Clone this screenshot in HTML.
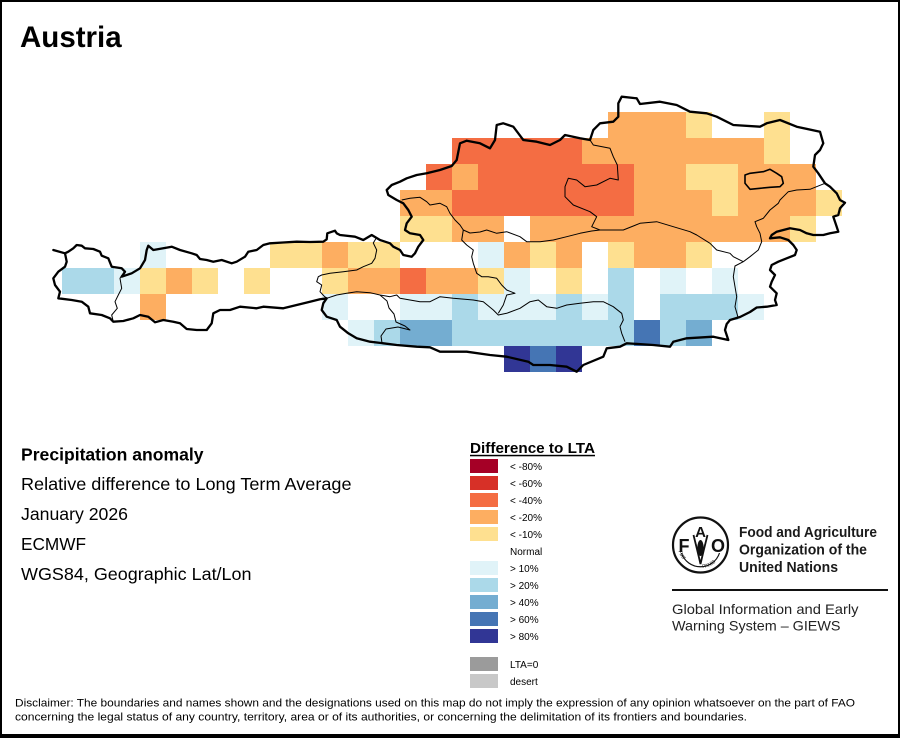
<!DOCTYPE html>
<html>
<head>
<meta charset="utf-8">
<style>
html,body{margin:0;padding:0;background:#fff;}
svg{display:block;}
text{font-family:"Liberation Sans",Arial,sans-serif;}
</style>
</head>
<body>
<svg width="900" height="738" viewBox="0 0 900 738" xmlns="http://www.w3.org/2000/svg">
<rect x="0" y="0" width="900" height="738" fill="#fff"/>

<!-- Title -->
<text x="20" y="47" font-size="29.5" font-weight="bold" fill="#000">Austria</text>

<!-- Grid cells -->
<g shape-rendering="crispEdges">
<!-- row 0 -->
<rect x="608" y="112" width="78" height="26" fill="#fdae61"/>
<rect x="686" y="112" width="26" height="26" fill="#fee090"/>
<rect x="764" y="112" width="26" height="26" fill="#fee090"/>
<!-- row 1 -->
<rect x="452" y="138" width="130" height="26" fill="#f46d43"/>
<rect x="582" y="138" width="182" height="26" fill="#fdae61"/>
<rect x="764" y="138" width="26" height="26" fill="#fee090"/>
<!-- row 2 -->
<rect x="426" y="164" width="26" height="26" fill="#f46d43"/>
<rect x="452" y="164" width="26" height="26" fill="#fdae61"/>
<rect x="478" y="164" width="156" height="26" fill="#f46d43"/>
<rect x="634" y="164" width="52" height="26" fill="#fdae61"/>
<rect x="686" y="164" width="52" height="26" fill="#fee090"/>
<rect x="738" y="164" width="78" height="26" fill="#fdae61"/>
<!-- row 3 -->
<rect x="400" y="190" width="52" height="26" fill="#fdae61"/>
<rect x="452" y="190" width="182" height="26" fill="#f46d43"/>
<rect x="634" y="190" width="78" height="26" fill="#fdae61"/>
<rect x="712" y="190" width="26" height="26" fill="#fee090"/>
<rect x="738" y="190" width="78" height="26" fill="#fdae61"/>
<rect x="816" y="190" width="26" height="26" fill="#fee090"/>
<!-- row 4 -->
<rect x="400" y="216" width="52" height="26" fill="#fee090"/>
<rect x="452" y="216" width="52" height="26" fill="#fdae61"/>
<rect x="530" y="216" width="260" height="26" fill="#fdae61"/>
<rect x="790" y="216" width="26" height="26" fill="#fee090"/>
<!-- row 5 -->
<rect x="140" y="242" width="26" height="26" fill="#e0f3f8"/>
<rect x="270" y="242" width="52" height="26" fill="#fee090"/>
<rect x="322" y="242" width="26" height="26" fill="#fdae61"/>
<rect x="348" y="242" width="52" height="26" fill="#fee090"/>
<rect x="478" y="242" width="26" height="26" fill="#e0f3f8"/>
<rect x="504" y="242" width="26" height="26" fill="#fdae61"/>
<rect x="530" y="242" width="26" height="26" fill="#fee090"/>
<rect x="556" y="242" width="26" height="26" fill="#fdae61"/>
<rect x="608" y="242" width="26" height="26" fill="#fee090"/>
<rect x="634" y="242" width="52" height="26" fill="#fdae61"/>
<rect x="686" y="242" width="26" height="26" fill="#fee090"/>
<!-- row 6 -->
<rect x="62" y="268" width="52" height="26" fill="#abd9e9"/>
<rect x="114" y="268" width="26" height="26" fill="#e0f3f8"/>
<rect x="140" y="268" width="26" height="26" fill="#fee090"/>
<rect x="166" y="268" width="26" height="26" fill="#fdae61"/>
<rect x="192" y="268" width="26" height="26" fill="#fee090"/>
<rect x="244" y="268" width="26" height="26" fill="#fee090"/>
<rect x="322" y="268" width="26" height="26" fill="#fee090"/>
<rect x="348" y="268" width="52" height="26" fill="#fdae61"/>
<rect x="400" y="268" width="26" height="26" fill="#f46d43"/>
<rect x="426" y="268" width="52" height="26" fill="#fdae61"/>
<rect x="478" y="268" width="26" height="26" fill="#fee090"/>
<rect x="504" y="268" width="26" height="26" fill="#e0f3f8"/>
<rect x="556" y="268" width="26" height="26" fill="#fee090"/>
<rect x="608" y="268" width="26" height="26" fill="#abd9e9"/>
<rect x="660" y="268" width="26" height="26" fill="#e0f3f8"/>
<rect x="712" y="268" width="26" height="26" fill="#e0f3f8"/>
<!-- row 7 -->
<rect x="140" y="294" width="26" height="26" fill="#fdae61"/>
<rect x="322" y="294" width="26" height="26" fill="#e0f3f8"/>
<rect x="400" y="294" width="52" height="26" fill="#e0f3f8"/>
<rect x="452" y="294" width="26" height="26" fill="#abd9e9"/>
<rect x="478" y="294" width="78" height="26" fill="#e0f3f8"/>
<rect x="556" y="294" width="26" height="26" fill="#abd9e9"/>
<rect x="582" y="294" width="26" height="26" fill="#e0f3f8"/>
<rect x="608" y="294" width="26" height="26" fill="#abd9e9"/>
<rect x="660" y="294" width="78" height="26" fill="#abd9e9"/>
<rect x="738" y="294" width="26" height="26" fill="#e0f3f8"/>
<!-- row 8 -->
<rect x="348" y="320" width="26" height="26" fill="#e0f3f8"/>
<rect x="374" y="320" width="26" height="26" fill="#abd9e9"/>
<rect x="400" y="320" width="52" height="26" fill="#74add1"/>
<rect x="452" y="320" width="182" height="26" fill="#abd9e9"/>
<rect x="634" y="320" width="26" height="26" fill="#4575b4"/>
<rect x="660" y="320" width="26" height="26" fill="#abd9e9"/>
<rect x="686" y="320" width="26" height="26" fill="#74add1"/>
<!-- row 9 -->
<rect x="504" y="346" width="26" height="26" fill="#313695"/>
<rect x="530" y="346" width="26" height="26" fill="#4575b4"/>
<rect x="556" y="346" width="26" height="26" fill="#313695"/>
</g>

<!-- Internal borders -->
<g fill="none" stroke="#000" stroke-width="1" stroke-linejoin="round">
<path d="M122,275 L120,278.3 121.7,288.3 118.3,295 115,301.7 117.3,308.3 111.7,315 113.3,321.7"/>
<path d="M376.7,237.3 L373.3,243 376.7,250 375,258.3 371.7,263.3 363.3,266.7 356.7,270 343.3,271.7 330,273.3 321.7,275 318.3,276.7 316.7,281.7 321.7,285 320,291.7 324,296 326.7,298.3"/>
<path d="M326.7,298.3 L336.7,295 346.7,293.3 356.7,291.7 370,292.7 380,295 390,296.7 396.7,295 400,298.3 410,300 420,301.7 430,301.7 440,296.7 453.3,298.3 473.3,300 483.3,301.7 493.3,310 498.3,315 506.7,313.3 520,308.3 530,301.7 538.3,300 546.7,306.7 556.7,308.3 566.7,305 580,303.3 593.3,301.7 603.3,301.7 613.3,306.7 621.7,313.3 623.3,320 620,326.7 621.7,333.3 625,341.7"/>
<path d="M380,295 L387,301 389,308 394,314 396,322 405,326 410,330 398,327 386,329 381,336 382,343"/>
<path d="M463.3,230 L461.7,240 466.7,245 473.3,250 471.7,256.7 473.3,263.3 476.7,273.3 481.7,276.7 488.3,276.7 496.7,278.3 501.7,285 506.7,290 515,293.3 506.7,295 505,300 503.3,305 498.3,313.3"/>
<path d="M401.7,200 L410,198.3 420,197.3 426.7,201.7 430,205 440,203.3 446.7,206.7 450,213.3 455,220 460,225 463.3,230"/>
<path d="M463.3,230 L470,233 480,232 486.7,230 496.7,233.3 506.7,231.7 520,236.7 526.7,241.7 540,241.7 553.3,240 566.7,236.7 580,233.3 591.7,231 600,230 623.3,230 640,223.3 656.7,221.7 673.3,226.7 690,231.7 696.7,235 710,243.3 716.7,250 730,253.3 733.3,256.7 743.3,261.7"/>
<path d="M590,140 L593.3,145 610,148.3 613.3,156.7 617.3,165 618.3,180 610,178.3 596.7,185 585,186.7 576.7,180 568.3,178.3 565,186.7 565,196.7 573.3,205 590,211.7 596.7,216.7 591.7,226.7 600,230"/>
<path d="M825,183.3 L810,189.3 796.7,190 788.3,191.7 783.3,196.7 780,200 778.3,203.3 770,210 763.3,218.3 755,221.7 756.7,226.7 760,233.3 761.7,241.7 758.3,250 750,256.7 743.3,261.7"/>
<path d="M743.3,261.7 L735,266 733.3,276.7 736.7,296.7 735,306.7 738.3,318.3"/>
<path stroke-width="1.6" d="M745,175 L750,173.3 763.3,171.7 770,169.3 776.7,173.3 781.7,176.7 783.3,183.3 780,186.7 770,187.3 760,188.3 750,189.3 745,183.3 Z"/>
</g>

<!-- Country outline -->
<g fill="none" stroke="#000" stroke-width="2.3" stroke-linejoin="round" stroke-linecap="round">
<path d="M65,253.3 L68.3,251.7 73.3,248.3 76.7,245 81.7,245.7 85,248.3 93.3,249 100,251.7 101.7,255.7 108.3,258.3 111.7,266.7 121.7,268.3 125,271.7 121.7,276.7 131.7,273.3 140,268.3 145,260 146.7,250 148.3,245.7 153.3,250 163.3,248.3 171.7,246.7 180,250 191.7,253.3 196.7,255 200,259 206.7,260 213.3,261.7 221.7,260 231.7,263.3 236.7,261.7 245,256.7 248.3,251.7 256.7,250 263.3,245 270,243.3 283,242.5 296.7,241.7 310,242 323.3,241.7 326.7,239.3 327.3,233.3 335,230.7 336.7,233.3 340,235 355,236.7 363.3,240 371.7,235 380,240 390,243.3 393.3,246.7 400,250 403.3,255 411.7,256.7 415,253.3 418.3,246.7 423.3,240 420,235 410,233.3 405,230 406.7,223.3 411.7,216.7 408.3,210 403.3,203.3 396.7,200 388.3,195 386.7,190 391.7,185 400,181.7 406.7,178.3 416.7,175 426.7,173.3 440,170 451.7,166 456.7,160 460,143.3 466.7,140.7 480,143.3 490,148.3 495,140 496.7,125 503.3,123.3 513.3,126.7 518.3,133.3 523.3,140 536.7,141.7 550,145 560,140 565,135 580,138.3 590,140 593.3,130 600,123.3 613.3,121.7 618.3,116.7 618.3,103.3 621.7,96.7 636.7,98.3 640,104 660,101.7 676.7,105 690,111.7 706.7,113.3 716.7,116.7 733.3,125 760,126.7 766.7,123.3 780,120 796.7,126.7 820,131.7 823.3,143.3 820,150 815,155 813.3,166.7 818.3,173.3 825,183.3 830,186.7 836.7,193.3 840,200 845,202.7 840,208.3 838.3,215 833.3,216.7 836.7,226.7 838.3,231.7 830,233.3 823.3,235 813.3,235 806.7,233.3 800,230 790,228.3 783.3,230 776.7,231.7 771.7,235 770,238.3 780,237.3 788.3,240 793.3,245 796.7,250 795,255 786.7,258.3 778.3,261.7 771.7,265 770,270 775,275 771.7,281.7 770,286.7 776.7,293.3 775,300 776.7,305 766.7,306.7 756.7,307.5 750,312 740,317 730,320 726.7,324 725,330 728.3,340 713.3,336.7 686.7,338.3 673.3,341.7 670,346.7 653.3,345 626.7,343.3 620,346.7 606.7,348.3 603.3,356.7 583.3,365 576.7,371.7 566.7,366.7 550,365 533.3,365 528.3,361.7 506.7,356.7 490,355 466.7,351.7 440,351.7 430,347.3 416.7,346.7 396.7,345 383.3,343.3 370,341.7 356.7,338.3 348.3,333.3 340,326.7 336.7,320 326.7,316.7 321.7,310 323.3,303.3 326.7,298.3 320,299.3 310,301.7 296.7,305 283.3,308.3 263.3,306.7 256.7,308.3 240,306.7 230,310 220,310 213.3,313.3 211.7,323.3 206.7,330 196.7,330 186.7,329 180,323.3 173.3,321.7 163.3,320 155,322.3 148.3,316.7 140,315 133.3,318.3 123.3,321 113.3,321.7 110,318.3 101.7,315 90,313.3 88.3,306.7 81.7,301.7 71.7,300 58.3,298.3 60,291.7 55,285 53.3,278.3 58.3,271.7 65,266.7 66.7,261.7 Z"/>
<path d="M65,253.3 L53.3,250"/>
</g>

<!-- Left text block -->
<text x="21" y="460.5" font-size="17.5" font-weight="bold" fill="#000" textLength="182.5" lengthAdjust="spacingAndGlyphs">Precipitation anomaly</text>
<text x="21" y="490" font-size="17.8" fill="#000" textLength="330.5" lengthAdjust="spacingAndGlyphs">Relative difference to Long Term Average</text>
<text x="21" y="520" font-size="17.8" fill="#000" textLength="107" lengthAdjust="spacingAndGlyphs">January 2026</text>
<text x="21" y="550" font-size="17.8" fill="#000" textLength="65" lengthAdjust="spacingAndGlyphs">ECMWF</text>
<text x="21" y="580" font-size="17.8" fill="#000" textLength="230.5" lengthAdjust="spacingAndGlyphs">WGS84, Geographic Lat/Lon</text>

<!-- Legend -->
<text x="470" y="453" font-size="15" font-weight="bold" fill="#000" textLength="125" lengthAdjust="spacingAndGlyphs">Difference to LTA</text>
<rect x="470" y="454.8" width="125" height="1.5" fill="#000"/>
<g shape-rendering="crispEdges">
<rect x="470" y="459" width="28" height="14" fill="#a50026"/>
<rect x="470" y="476" width="28" height="14" fill="#d73027"/>
<rect x="470" y="493" width="28" height="14" fill="#f46d43"/>
<rect x="470" y="510" width="28" height="14" fill="#fdae61"/>
<rect x="470" y="527" width="28" height="14" fill="#fee090"/>
<rect x="470" y="561" width="28" height="14" fill="#e0f3f8"/>
<rect x="470" y="578" width="28" height="14" fill="#abd9e9"/>
<rect x="470" y="595" width="28" height="14" fill="#74add1"/>
<rect x="470" y="612" width="28" height="14" fill="#4575b4"/>
<rect x="470" y="629" width="28" height="14" fill="#313695"/>
<rect x="470" y="657" width="28" height="14" fill="#9b9b9b"/>
<rect x="470" y="674" width="28" height="14" fill="#c8c8c8"/>
</g>
<g font-size="10" fill="#000">
<text x="510" y="470">&lt; -80%</text>
<text x="510" y="487">&lt; -60%</text>
<text x="510" y="504">&lt; -40%</text>
<text x="510" y="521">&lt; -20%</text>
<text x="510" y="538">&lt; -10%</text>
<text x="510" y="555">Normal</text>
<text x="510" y="572">&gt; 10%</text>
<text x="510" y="589">&gt; 20%</text>
<text x="510" y="606">&gt; 40%</text>
<text x="510" y="623">&gt; 60%</text>
<text x="510" y="640">&gt; 80%</text>
<text x="510" y="668">LTA=0</text>
<text x="510" y="685">desert</text>
</g>

<!-- FAO logo -->
<defs>
<path id="arcL" d="M-22,6 A23,23 0 0 0 -2,23"/>
<path id="arcR" d="M2,23 A23,23 0 0 0 22,6"/>
</defs>
<g transform="translate(700.5,545)" fill="#111">
<circle r="27.5" fill="none" stroke="#111" stroke-width="2.2"/>
<path d="M-19,8 A20,20 0 0 0 19,8" fill="none" stroke="#111" stroke-width="1.2"/>
<text x="-16.5" y="7" font-size="18" font-weight="bold" text-anchor="middle">F</text>
<text x="17.5" y="7" font-size="18" font-weight="bold" text-anchor="middle">O</text>
<text x="0" y="-8" font-size="15" font-weight="bold" text-anchor="middle">A</text>
<path d="M-7,-10 Q-3,6 0,19 Q3,6 7,-10" fill="none" stroke="#111" stroke-width="1.8"/>
<ellipse cx="0" cy="3" rx="3.2" ry="8" fill="#111"/>
<text font-size="5" fill="#111"><textPath href="#arcL">FIAT</textPath></text>
<text font-size="5" fill="#111"><textPath href="#arcR">PANIS</textPath></text>
</g>
<g fill="#1a1a1a" font-weight="bold" font-size="15">
<text x="739" y="537" textLength="138" lengthAdjust="spacingAndGlyphs">Food and Agriculture</text>
<text x="739" y="554.5" textLength="128" lengthAdjust="spacingAndGlyphs">Organization of the</text>
<text x="739" y="572" textLength="99" lengthAdjust="spacingAndGlyphs">United Nations</text>
</g>
<rect x="672" y="589" width="216" height="2" fill="#111"/>
<g fill="#222" font-size="14">
<text x="672" y="614" textLength="186.5" lengthAdjust="spacingAndGlyphs">Global Information and Early</text>
<text x="672" y="630.5" textLength="168.5" lengthAdjust="spacingAndGlyphs">Warning System – GIEWS</text>
</g>

<!-- Disclaimer -->
<g fill="#000" font-size="11">
<text x="15" y="706.5" textLength="840" lengthAdjust="spacingAndGlyphs">Disclaimer: The boundaries and names shown and the designations used on this map do not imply the expression of any opinion whatsoever on the part of FAO</text>
<text x="15" y="720.5" textLength="732" lengthAdjust="spacingAndGlyphs">concerning the legal status of any country, territory, area or of its authorities, or concerning the delimitation of its frontiers and boundaries.</text>
</g>

<!-- Frame -->
<g fill="#000" shape-rendering="crispEdges">
<rect x="0" y="0" width="900" height="2"/>
<rect x="0" y="0" width="2" height="738"/>
<rect x="898" y="0" width="2" height="738"/>
<rect x="0" y="734" width="900" height="4"/>
</g>
</svg>
</body>
</html>
